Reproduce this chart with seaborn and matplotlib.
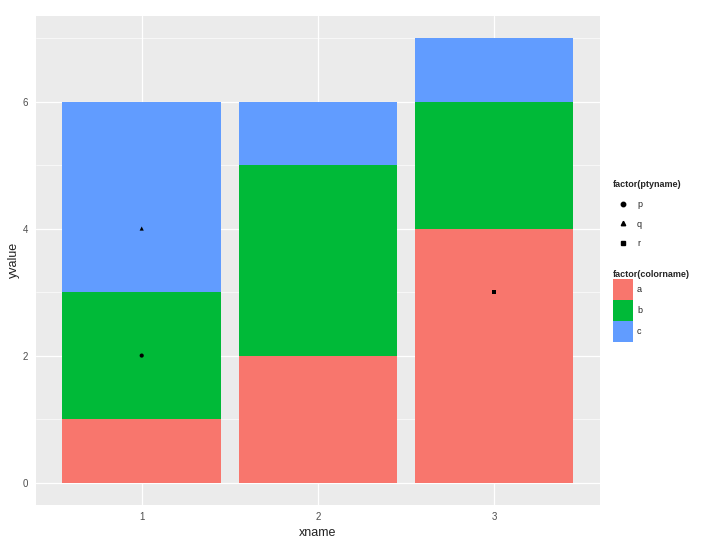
import numpy as np
import pandas as pd
import matplotlib
matplotlib.use('Agg')
import matplotlib.pyplot as plt
import seaborn as sns
from matplotlib.lines import Line2D
from matplotlib.patches import Patch

# data
xname = [1, 2, 3]
val_a = [1, 2, 4]
val_b = [2, 3, 2]
val_c = [3, 1, 1]
colornames = ['a', 'b', 'c']
palette = {'a': '#F8766D', 'b': '#00BA38', 'c': '#619CFF'}

pt_x = [1, 1, 3]
pt_y = [2, 4, 3]
pt_name = ['p', 'q', 'r']
markers = {'p': 'o', 'q': '^', 'r': 's'}

sns.set_theme(style='darkgrid')
plt.rcParams['font.family'] = ['Liberation Sans', 'DejaVu Sans']

fig = plt.figure(figsize=(7.2, 5.44), dpi=100)
ax = fig.add_axes([0.05, 0.072, 0.783, 0.899])

# stacked bars: draw cumulative tops, tallest first
bars = pd.DataFrame({'xname': xname, 'a': val_a, 'b': val_b, 'c': val_c})
bars['top_a'] = bars['a']
bars['top_b'] = bars['a'] + bars['b']
bars['top_c'] = bars['top_b'] + bars['c']
for name in ['c', 'b', 'a']:
    sns.barplot(data=bars, x='xname', y='top_' + name, color=palette[name],
                saturation=1, native_scale=True, width=0.9, ax=ax,
                edgecolor='none', linewidth=0, errorbar=None, zorder=2)

pts = pd.DataFrame({'xname': pt_x, 'yvalue': pt_y, 'ptyname': pt_name})
sns.scatterplot(data=pts, x='xname', y='yvalue', style='ptyname', markers=markers,
                color='black', s=9, linewidth=0, ax=ax, legend=False, zorder=3)

ax.set_facecolor('#EBEBEB')
ax.set_xlim(0.4, 3.6)
ax.set_ylim(-0.35, 7.35)
ax.set_xticks([1, 2, 3])
ax.set_xticklabels(['1', '2', '3'])
ax.set_yticks([0, 2, 4, 6])
ax.set_yticks([1, 3, 5, 7], minor=True)
ax.grid(True, which='major', color='white', linewidth=0.9, zorder=0)
ax.grid(True, which='minor', axis='y', color='white', linewidth=0.45, zorder=0)
ax.set_axisbelow(True)
for s in ax.spines.values():
    s.set_visible(False)
ax.tick_params(axis='both', which='major', length=2.5, width=0.7, color='#333333',
               labelsize=7, labelcolor='#4D4D4D', pad=3)
ax.tick_params(axis='both', which='minor', length=0)
ax.set_xlabel('xname', fontsize=9, color='#222222', labelpad=3)
ax.set_ylabel('yvalue', fontsize=9, color='#222222', labelpad=2)

# legends
pt_handles = [Line2D([], [], marker=markers[k], color='black', linestyle='none',
                     markersize=3.2) for k in ['p', 'q', 'r']]
leg1 = fig.legend(pt_handles, ['p', 'q', 'r'], title='factor(ptyname)',
                  loc='upper left', bbox_to_anchor=(0.846, 0.676), frameon=False,
                  fontsize=6.5, title_fontsize=6.5, handlelength=2.2,
                  handletextpad=0.5, labelspacing=1.2, alignment='left',
                  borderaxespad=0)
fill_handles = [Patch(facecolor=palette[k], edgecolor='none') for k in colornames]
leg2 = fig.legend(fill_handles, colornames, title='factor(colorname)',
                  loc='upper left', bbox_to_anchor=(0.846, 0.51), frameon=False,
                  fontsize=6.5, title_fontsize=6.5, handlelength=2.2,
                  handleheight=3.2, labelspacing=0.0, handletextpad=0.5,
                  alignment='left', borderaxespad=0)
for leg in (leg1, leg2):
    leg.get_title().set_fontweight('bold')

fig.savefig('out.png', dpi=100)
